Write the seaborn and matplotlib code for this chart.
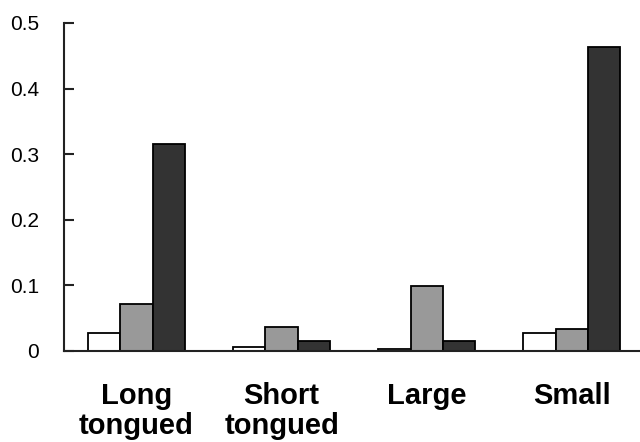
import numpy as np
import pandas as pd
import seaborn as sns
import matplotlib.pyplot as plt
from matplotlib.ticker import FuncFormatter

groups = ["Long\ntongued", "Short\ntongued", "Large", "Small"]
series = ["A", "B", "C"]
values_a = [0.028, 0.006, 0.003, 0.028]
values_b = [0.071, 0.036, 0.099, 0.033]
values_c = [0.316, 0.015, 0.015, 0.464]
bar_colors = ["#ffffff", "#999999", "#333333"]

df = pd.DataFrame({
    "group": groups * 3,
    "series": [s for s in series for _ in groups],
    "value": values_a + values_b + values_c,
})

sns.set_style("white")
plt.rcParams["font.family"] = ["Liberation Sans", "DejaVu Sans"]

fig = plt.figure(figsize=(6.4, 4.42), dpi=100)
ax = fig.add_axes([0.1, 0.206, 0.9, 0.742])

sns.barplot(data=df, x="group", y="value", hue="series", order=groups,
            hue_order=series, palette=bar_colors, edgecolor="black",
            linewidth=1.3, width=0.67, legend=False, ax=ax)

ax.set_xlim(-0.5, 3.47)
ax.set_ylim(0, 0.5)
ax.set_yticks([0, 0.1, 0.2, 0.3, 0.4, 0.5])
ax.yaxis.set_major_formatter(FuncFormatter(lambda v, p: "0" if v == 0 else f"{v:.1f}"))
ax.set_xlabel("")
ax.set_ylabel("")

for side in ["top", "right"]:
    ax.spines[side].set_visible(False)
for side in ["left", "bottom"]:
    ax.spines[side].set_color("#222222")
    ax.spines[side].set_linewidth(1.5)

ax.tick_params(axis="y", direction="in", length=7, width=1.5, color="#222222",
               pad=18, labelsize=15, labelcolor="black", left=True)
ax.tick_params(axis="x", length=0, pad=22, labelsize=21, labelcolor="black")
for lbl in ax.get_xticklabels():
    lbl.set_fontweight("bold")
    lbl.set_linespacing(1.12)

fig.savefig("out.png", dpi=100)
